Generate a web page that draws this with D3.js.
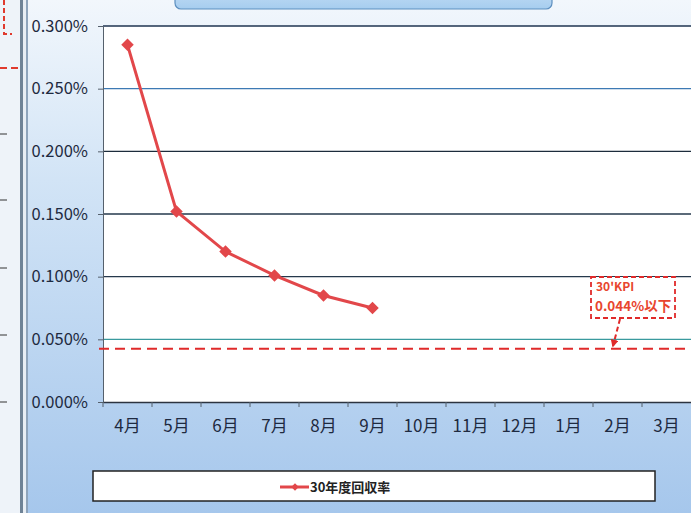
<!DOCTYPE html>
<html>
<head>
<meta charset="utf-8">
<script src="https://cdn.jsdelivr.net/npm/d3@7"></script>
<style>
  body { margin: 0; background: #fff; }
  svg text { font-family: "Noto Sans CJK JP", "Noto Sans", sans-serif; }
</style>
</head>
<body>
<div class="chart"></div>
<script>
// data
var months = ["4月", "5月", "6月", "7月", "8月", "9月", "10月", "11月", "12月", "1月", "2月", "3月"];
var rates = [0.285, 0.152, 0.120, 0.101, 0.085, 0.075];
var yTicks = [0, 0.05, 0.1, 0.15, 0.2, 0.25, 0.3];
var kpi = 0.044;
var seriesName = "30年度回収率";
var kpiLines = ["30'KPI", "0.044%以下"];

var width = 691, height = 513;
var margin = { top: 26, right: 0, bottom: 111, left: 103 };

var svg = d3.select(".chart").append("svg")
    .attr("width", width)
    .attr("height", height);

var defs = svg.append("defs");
var bg = defs.append("linearGradient").attr("id", "bg")
    .attr("x1", 0).attr("y1", 0).attr("x2", 0).attr("y2", 1);
bg.append("stop").attr("offset", "0%").attr("stop-color", "#f2f7fc");
bg.append("stop").attr("offset", "35%").attr("stop-color", "#d2e4f6");
bg.append("stop").attr("offset", "100%").attr("stop-color", "#a6c7ec");

var tb = defs.append("linearGradient").attr("id", "titlebox")
    .attr("x1", 0).attr("y1", 0).attr("x2", 0).attr("y2", 1);
tb.append("stop").attr("offset", "0%").attr("stop-color", "#cfe4f7");
tb.append("stop").attr("offset", "100%").attr("stop-color", "#a6cdef");

// page background (chart area + left neighbour)
svg.append("rect").attr("x", 0).attr("y", 0).attr("width", width).attr("height", height)
    .attr("fill", "url(#bg)");
svg.append("rect").attr("x", 0).attr("y", 0).attr("width", 21).attr("height", height)
    .attr("fill", "#eef3f9");
svg.append("rect").attr("x", 20).attr("y", 0).attr("width", 3).attr("height", height)
    .attr("fill", "#6f8396");
svg.append("rect").attr("x", 23).attr("y", 0).attr("width", 3).attr("height", height)
    .attr("fill", "#e8eef4");
svg.append("rect").attr("x", 26).attr("y", 0).attr("width", 2).attr("height", height)
    .attr("fill", "#8ea4bb");

// fragment of neighbouring chart
var frag = svg.append("g");
frag.append("path").attr("d", "M4,0 V34 H12")
    .attr("fill", "none").attr("stroke", "#e03a2e").attr("stroke-width", 2)
    .attr("stroke-dasharray", "5,3");
frag.append("line").attr("x1", 0).attr("x2", 20).attr("y1", 68).attr("y2", 68)
    .attr("stroke", "#e03a2e").attr("stroke-width", 2).attr("stroke-dasharray", "7,4");
[134, 200, 268, 335, 402].forEach(function (y) {
    frag.append("line").attr("x1", 0).attr("x2", 7).attr("y1", y).attr("y2", y)
        .attr("stroke", "#333").attr("stroke-width", 1);
});

// title box (cut off at top)
svg.append("rect").attr("x", 175).attr("y", -20).attr("width", 377).attr("height", 29)
    .attr("rx", 6).attr("fill", "url(#titlebox)").attr("stroke", "#5d8fbf").attr("stroke-width", 1.2);

var x = d3.scaleBand()
    .domain(months)
    .range([margin.left, width - margin.right]);

var y = d3.scaleLinear()
    .domain([0, 0.3])
    .range([height - margin.bottom, margin.top]);

// plot area
svg.append("rect")
    .attr("x", margin.left).attr("y", margin.top)
    .attr("width", width - margin.right - margin.left)
    .attr("height", y(0) - margin.top)
    .attr("fill", "#ffffff");

// gridlines
var gridColors = { 0.3: "#1f3550", 0.25: "#3d7ab4", 0.2: "#1c2c3c", 0.15: "#25384c", 0.1: "#25384c", 0.05: "#3a9a9e" };
svg.append("g").selectAll("line")
    .data(yTicks.filter(function (d) { return d > 0; }))
    .enter().append("line")
    .attr("x1", margin.left).attr("x2", width)
    .attr("y1", function (d) { return y(d); })
    .attr("y2", function (d) { return y(d); })
    .attr("stroke", function (d) { return gridColors[d] || "#25384c"; })
    .attr("stroke-width", 1.3);

// y axis
var yAxis = svg.append("g")
    .attr("transform", "translate(" + margin.left + ",0)")
    .call(d3.axisLeft(y).tickValues(yTicks).tickSize(5).tickPadding(10)
        .tickFormat(function (d) { return d.toFixed(3) + "%"; }));
yAxis.select(".domain").attr("stroke", "#55606c");
yAxis.selectAll(".tick line").attr("stroke", "#55606c");
yAxis.selectAll("text")
    .attr("fill", "#1e2a40")
    .style("font-size", "16.5px");

// x axis
var xAxis = svg.append("g")
    .attr("transform", "translate(0," + y(0) + ")")
    .call(d3.axisBottom(x).tickSize(0).tickPadding(18));
xAxis.select(".domain").attr("stroke", "#2c3440").attr("stroke-width", 1.3);
xAxis.selectAll("text")
    .attr("fill", "#1e2a40")
    .style("font-size", "17px");
svg.append("g").selectAll("line")
    .data(months)
    .enter().append("line")
    .attr("x1", function (d) { return x(d); })
    .attr("x2", function (d) { return x(d); })
    .attr("y1", y(0)).attr("y2", y(0) + 5)
    .attr("stroke", "#55606c");

// KPI line
svg.append("line")
    .attr("x1", margin.left - 4).attr("x2", width)
    .attr("y1", y(kpi) + 2).attr("y2", y(kpi) + 2)
    .attr("stroke", "#e02a2a").attr("stroke-width", 2)
    .attr("stroke-dasharray", "10,6");

// KPI callout
var kg = svg.append("g");
kg.append("rect").attr("x", 591).attr("y", 277).attr("width", 84).attr("height", 41)
    .attr("fill", "#ffffff").attr("stroke", "#e02a2a").attr("stroke-width", 1.8)
    .attr("stroke-dasharray", "5,3");
kg.append("text").attr("x", 596).attr("y", 291).text(kpiLines[0])
    .attr("fill", "#e8452e").style("font-size", "12px").style("font-weight", "bold");
kg.append("text").attr("x", 595).attr("y", 311).text(kpiLines[1])
    .attr("fill", "#e8452e").style("font-size", "13.5px").style("font-weight", "bold");
defs.append("marker").attr("id", "arr")
    .attr("viewBox", "0 0 10 10").attr("refX", 8).attr("refY", 5)
    .attr("markerWidth", 4).attr("markerHeight", 4).attr("orient", "auto")
    .append("path").attr("d", "M0,0 L10,5 L0,10 z").attr("fill", "#e02a2a");
kg.append("line").attr("x1", 620).attr("y1", 319).attr("x2", 613).attr("y2", 346)
    .attr("stroke", "#e02a2a").attr("stroke-width", 2).attr("stroke-dasharray", "5,3")
    .attr("marker-end", "url(#arr)");

// series line
var cx = function (d, i) { return x(months[i]) + x.bandwidth() / 2; };
var line = d3.line()
    .x(cx)
    .y(function (d) { return y(d); });

svg.append("path")
    .datum(rates)
    .attr("d", line)
    .attr("fill", "none")
    .attr("stroke", "#e2474a")
    .attr("stroke-width", 3);

svg.append("g").selectAll("path")
    .data(rates)
    .enter().append("path")
    .attr("d", d3.symbol().type(d3.symbolDiamond2).size(100))
    .attr("transform", function (d, i) { return "translate(" + cx(d, i) + "," + y(d) + ")"; })
    .attr("fill", "#e2474a");

// legend
var lg = svg.append("g");
lg.append("rect").attr("x", 93).attr("y", 471).attr("width", 562).attr("height", 30)
    .attr("fill", "#ffffff").attr("stroke", "#222").attr("stroke-width", 1.5);
lg.append("line").attr("x1", 280).attr("x2", 309).attr("y1", 487).attr("y2", 487)
    .attr("stroke", "#e2474a").attr("stroke-width", 3);
lg.append("path")
    .attr("d", d3.symbol().type(d3.symbolDiamond2).size(36))
    .attr("transform", "translate(295,487)")
    .attr("fill", "#e2474a");
lg.append("text").attr("x", 310).attr("y", 492).text(seriesName)
    .attr("fill", "#222").style("font-size", "13px").style("font-weight", "bold");
</script>
</body>
</html>
